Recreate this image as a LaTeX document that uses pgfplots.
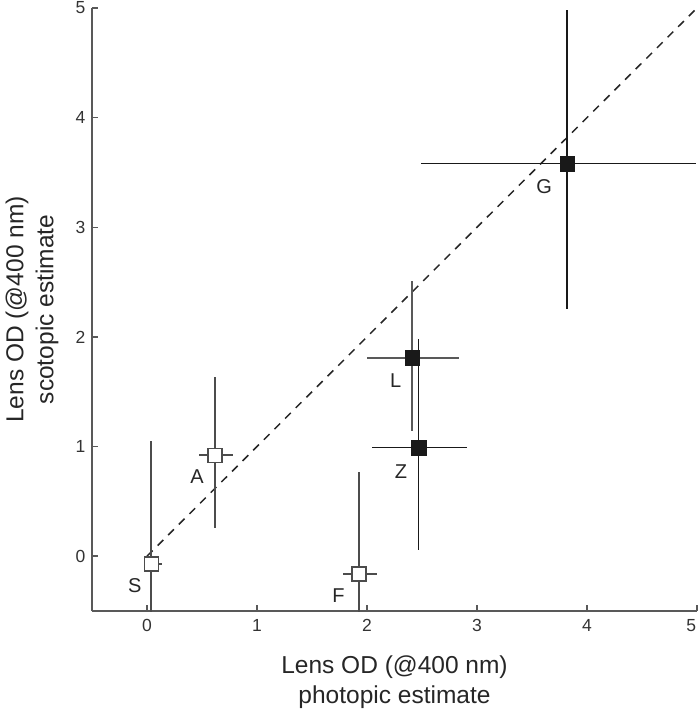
\documentclass[border=0pt]{standalone}
\usepackage{pgfplots}
\pgfplotsset{compat=1.18}
\usepackage{fontspec}
\setmainfont{Liberation Sans}
\definecolor{axgray}{gray}{0.35}
\begin{document}
\begin{tikzpicture}[x=1pt,y=1pt]
\useasboundingbox (0,0) rectangle (700,716);
\begin{axis}[
  at={(92pt,105pt)}, anchor=south west,
  scale only axis, width=605pt, height=603pt,
  xmin=-0.5, xmax=5, ymin=-0.5, ymax=5,
  axis x line*=bottom, axis y line*=left,
  axis line style={axgray, line width=2pt, -},
  xtick={0,1,2,3,4,5}, ytick={0,1,2,3,4,5},
  xticklabels={0,1,2,3,4,\makebox[0pt][r]{5\kern1pt}},
  tick align=inside, major tick length=6pt,
  tick style={axgray, line width=1.5pt},
  /pgf/number format/assume math mode=true,
  ticklabel style={font=\fontsize{17.5}{21}\selectfont, text=black!80},
  xticklabel style={yshift=-5pt},
  yticklabel style={xshift=-3pt},
  xlabel={Lens OD (@400 nm)\\photopic estimate},
  ylabel={Lens OD (@400 nm)\\scotopic estimate},
  label style={font=\fontsize{24.5}{30}\selectfont, align=center, text=black!85},
  xlabel style={at={(axis description cs:0.5,0)}, anchor=north, yshift=-41pt},
  ylabel style={at={(axis description cs:0,0.5)}, anchor=south, yshift=30pt},
  clip=true,
]
\addplot[black!85, dashed, dash pattern=on 8pt off 7pt, line width=1.5pt] coordinates {(0,0) (5,5)};
% open squares
\addplot[only marks, mark=square*, mark size=7pt,
  mark options={fill=white, draw=black!70, line width=1.6pt},
  error bars/.cd, x dir=both, x explicit, y dir=both, y explicit,
  error bar style={black!70, line width=1.8pt}, error mark=none]
coordinates {
 (0.04,-0.07) += (0.10,1.12) -= (0.07,1.0)
 (0.62,0.92) += (0.16,0.71) -= (0.15,0.66)
 (1.93,-0.16) += (0.16,0.93) -= (0.15,1.0)
};
% L
\addplot[only marks, mark=square*, mark size=7.3pt,
  mark options={fill=black!90, draw=black!90},
  error bars/.cd, x dir=both, x explicit, y dir=both, y explicit,
  error bar style={black!65, line width=1.8pt}, error mark=none]
coordinates {
 (2.41,1.81) += (0.43,0.70) -= (0.41,0.67)
};
% Z, G
\addplot[only marks, mark=square*, mark size=7.3pt,
  mark options={fill=black!90, draw=black!90},
  error bars/.cd, x dir=both, x explicit, y dir=both, y explicit,
  error bar style={black!90, line width=1.6pt}, error mark=none]
coordinates {
 (2.47,0.99) += (0.44,0.99) -= (0.42,0.93)
 (3.82,3.58) += (1.17,1.40) -= (1.33,1.33)
};
\addplot[only marks, mark=none, point meta=explicit symbolic,
  nodes near coords, nodes near coords align=center,
  every node near coord/.append style={font=\fontsize{20}{24}\selectfont, text=black!85, anchor=center}]
table[meta=lab] {
x y lab
-0.11 -0.27 S
0.455 0.73 A
1.74 -0.36 F
2.26 1.60 L
2.31 0.77 Z
3.61 3.37 G
};
\end{axis}
\end{tikzpicture}
\end{document}
